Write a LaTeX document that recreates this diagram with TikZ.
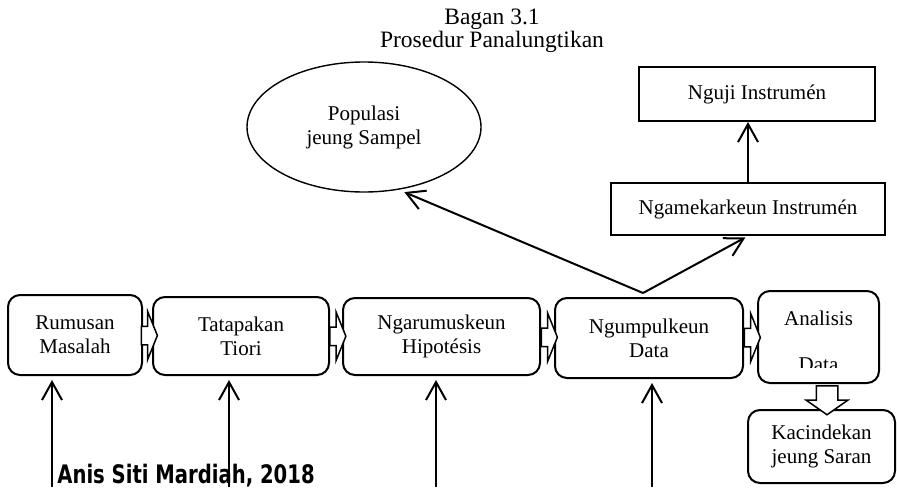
\documentclass[tikz,border=0pt]{standalone}
\usepackage{fontspec}
\usepackage{graphicx}
\setmainfont{Liberation Serif}
\newfontfamily\authorfont{DejaVu Sans}
\usetikzlibrary{positioning,shapes.geometric,shapes.arrows,arrows.meta,calc}

\begin{document}
\begin{tikzpicture}[x=0.5pt, y=-0.5pt, % one unit = one pixel of the reference
font=\fontsize{10.5}{12}\selectfont,
rbox/.style={rectangle, rounded corners=6pt, draw=black, line width=1pt, fill=white, align=center, inner sep=0pt},
sbox/.style={rectangle, draw=black, line width=1pt, align=center, inner sep=0pt},
oval/.style={ellipse, draw=black, line width=0.7pt, align=center, inner sep=0pt},
hollow/.style={single arrow, draw=black, line width=0.75pt, fill=white, inner xsep=0pt, inner ysep=4.25pt, single arrow head extend=7.5pt, single arrow tip angle=136, minimum height=8pt},
uparrow/.style={line width=1pt, -{Straight Barb[length=9pt,width=10pt]}},
]
\useasboundingbox (0,0) rectangle (897,487);

% title
\node[align=center, font=\fontsize{11.75}{11.5}\selectfont] (title) at (492,31) {Bagan 3.1\\Prosedur Panalungtikan};

% \node[type](name_of_node) at (x,y) {text_in_node}
\node[rbox, minimum width=67pt, minimum height=40pt](rumusan) at (75,335) {Rumusan\\Masalah};
\node[rbox, minimum width=88pt, minimum height=39pt](tatapakan) at (241,336) {Tatapakan\\Tiori};
\node[rbox, minimum width=98.5pt, minimum height=38.5pt](hipotesis) at (441.5,336.5) {Ngarumuskeun\\Hipotésis};
\node[rbox, minimum width=94pt, minimum height=40pt](ngumpul) at (649,338) {Ngumpulkeun\\Data};
\node[rbox, minimum width=60.5pt, minimum height=46pt](analisis) at (818.5,337) {};
\node[anchor=base](analisistext) at (818.5,325) {Analisis};
\begin{scope}
\clip (758,345) rectangle (879,367);
\node[anchor=base](datatext) at (818.5,371) {Data};
\end{scope}
\node[rbox, minimum width=73.5pt, minimum height=36.5pt](kacindekan) at (821.5,446.5) {Kacindekan\\jeung Saran};

\node[oval, minimum width=117pt, minimum height=65pt](populasi) at (364,127) {Populasi\\jeung Sampel};
\node[sbox, minimum width=137pt, minimum height=26pt](ngamekar) at (748,209) {Ngamekarkeun Instrumén};
\node[sbox, minimum width=118pt, minimum height=27pt](nguji) at (757,94) {Nguji Instrumén};

\node[anchor=base west, inner sep=0pt, font=\authorfont\bfseries\fontsize{9.8}{12}\selectfont](author) at (57,483) {\scalebox{1}[1.3]{Anis Siti Mardiah, 2018}};

% hollow arrows between the steps
\node[hollow](h1) at ($(rumusan.east)!0.5!(tatapakan.west)$) {};
\node[hollow](h2) at ($(tatapakan.east)!0.5!(hipotesis.west)$) {};
\node[hollow](h3) at ($(hipotesis.east)!0.5!(ngumpul.west)$) {};
\node[hollow](h4) at ($(ngumpul.east)!0.5!(analisis.west)$) {};
\node[hollow, rotate=-90, inner ysep=5pt, single arrow head extend=5pt, single arrow tip angle=110, minimum height=14.5pt](h5) at ($(analisis.south)!0.5!(kacindekan.north)+(7,0)$) {};

% arrows coming in from below
\coordinate (in1) at (52,487);
\coordinate (in2) at (229,487);
\coordinate (in3) at (436,487);
\coordinate (in4) at (652,487);
\draw[uparrow, shorten >=2pt] (in1) -- (in1 |- rumusan.south);
\draw[uparrow, shorten >=2pt] (in2) -- (in2 |- tatapakan.south);
\draw[uparrow, shorten >=2pt] (in3) -- (in3 |- hipotesis.south);
\draw[uparrow, shorten >=2pt] (in4) -- (in4 |- ngumpul.south);

% from the data collection upwards
\coordinate (fork) at (643,293);
\draw[uparrow, shorten >=3pt] (fork) -- (populasi.-61);
\draw[uparrow, shorten >=1.5pt] (fork) -- (ngamekar.south);
\draw[uparrow] (ngamekar.north) -- (ngamekar.north |- nguji.south);

\end{tikzpicture}
\end{document}
